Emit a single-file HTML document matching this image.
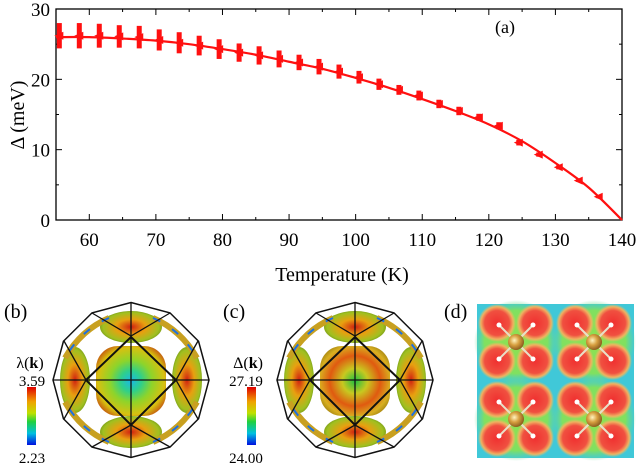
<!DOCTYPE html>
<html><head><meta charset="utf-8"><style>
body{margin:0;background:#fff;}
svg{display:block;font-family:"Liberation Serif",serif;}
</style></head><body>
<svg id="fig" width="640" height="468" viewBox="0 0 640 468">
<defs>
<radialGradient id="cen" cx="0.5" cy="0.5" r="0.6"><stop offset="0" stop-color="#19b8e8"/><stop offset="0.25" stop-color="#2fd08a"/><stop offset="0.5" stop-color="#8ed42a"/><stop offset="0.8" stop-color="#d8c010"/><stop offset="1" stop-color="#c04a10"/></radialGradient>
<radialGradient id="cen2" cx="0.5" cy="0.5" r="0.6"><stop offset="0" stop-color="#1fc040"/><stop offset="0.3" stop-color="#c8c820"/><stop offset="0.6" stop-color="#e05a10"/><stop offset="0.85" stop-color="#d8b020"/><stop offset="1" stop-color="#a08010"/></radialGradient>
<radialGradient id="lobe" cx="0.5" cy="0.5" r="0.6"><stop offset="0" stop-color="#d02010"/><stop offset="0.4" stop-color="#e8a010"/><stop offset="0.75" stop-color="#a0c020"/><stop offset="1" stop-color="#507010"/></radialGradient>
<linearGradient id="cbar" x1="0" y1="0" x2="0" y2="1"><stop offset="0" stop-color="#e00000"/><stop offset="0.25" stop-color="#f0a000"/><stop offset="0.45" stop-color="#c0e000"/><stop offset="0.6" stop-color="#20d040"/><stop offset="0.8" stop-color="#00c0e0"/><stop offset="1" stop-color="#0010e0"/></linearGradient>
<radialGradient id="red" cx="0.5" cy="0.5" r="0.5"><stop offset="0" stop-color="#f03030"/><stop offset="0.65" stop-color="#f05040"/><stop offset="0.85" stop-color="#f0b060"/><stop offset="1" stop-color="#f0c060" stop-opacity="0"/></radialGradient>
<radialGradient id="grn" cx="0.5" cy="0.5" r="0.5"><stop offset="0" stop-color="#90e050"/><stop offset="0.75" stop-color="#80e060"/><stop offset="1" stop-color="#60d8a0" stop-opacity="0"/></radialGradient>
<radialGradient id="atom" cx="0.4" cy="0.4" r="0.6"><stop offset="0" stop-color="#fff4c0"/><stop offset="0.5" stop-color="#d8a040"/><stop offset="1" stop-color="#906020"/></radialGradient>
</defs>
<g id="chartA"></g>
<text x="495" y="33" font-size="18">(a)</text>
<text x="24" y="115" font-size="20" text-anchor="middle" transform="rotate(-90 24 115)">Δ (meV)</text>
<text x="342" y="281" font-size="20" text-anchor="middle">Temperature (K)</text>

<g id="panelB"></g>
<g id="panelC"></g>
<text x="4" y="318" font-size="20">(b)</text>
<text x="223" y="318" font-size="20">(c)</text>
<text x="444" y="318" font-size="20">(d)</text>
<text x="30" y="368" font-size="16" text-anchor="middle">λ(<tspan font-weight="bold">k</tspan>)</text>
<text x="32" y="386" font-size="15" text-anchor="middle">3.59</text>
<rect x="27" y="387" width="9" height="58" fill="url(#cbar)"/>
<text x="32" y="463" font-size="15" text-anchor="middle">2.23</text>
<text x="248" y="368" font-size="16" text-anchor="middle">Δ(<tspan font-weight="bold">k</tspan>)</text>
<text x="246" y="386" font-size="15" text-anchor="middle">27.19</text>
<rect x="247" y="387" width="9" height="58" fill="url(#cbar)"/>
<text x="246" y="463" font-size="15" text-anchor="middle">24.00</text>
<g id="panelD"></g>
</svg>
<script>
const temps=[55.5,58.5,61.5,64.5,67.5,70.5,73.5,76.5,79.5,82.5,85.5,88.5,91.5,94.5,97.5,100.5,103.5,106.5,109.5,112.5,115.5,118.5,121.5,124.5,127.5,130.5,133.5,136.5];
const gaps=[26.2,26.2,26.2,26.1,26.0,25.6,25.2,24.8,24.3,23.8,23.4,22.9,22.4,21.8,21.1,20.3,19.3,18.5,17.7,16.5,15.5,14.6,13.4,11.0,9.3,7.5,5.6,3.3];
const errs=[1.8,1.8,1.7,1.6,1.6,1.5,1.5,1.4,1.4,1.3,1.3,1.2,1.1,1.1,1.0,0.9,0.8,0.7,0.7,0.6,0.6,0.5,0.5,0.4,0.3,0.3,0.2,0.2];
const fitT=[55,60,65,70,75,80,85,90,95,100,105,110,115,120,125,130,135,140];
const fitD=[26.0,26.0,25.8,25.5,25.0,24.3,23.5,22.5,21.5,20.2,18.8,17.2,15.5,13.6,11.2,8.1,4.6,0];
const xTicks=[60,70,80,90,100,110,120,130,140];
const yTicks=[0,10,20,30];
const NS='http://www.w3.org/2000/svg';
const X0=56,X1=622,Y0=220,Y1=9;
const sx=t=>X0+(t-55)/(140-55)*(X1-X0);
const sy=d=>Y0-d/30*(Y0-Y1);
function mk(tag,at,parent){const e=document.createElementNS(NS,tag);for(const k in at)e.setAttribute(k,at[k]);parent.appendChild(e);return e;}
const A=document.getElementById('chartA');
const frame=mk('rect',{x:X0,y:Y1,width:X1-X0,height:Y0-Y1,fill:'none',stroke:'#000','stroke-width':1.3},A);


for(let t=55;t<=140;t+=5){const major=t%10===0,L=major?6:3;
 const a=mk('line',{x1:sx(t),x2:sx(t),y1:Y0,y2:Y0-L,stroke:'#000'},A);
 const b=mk('line',{x1:sx(t),x2:sx(t),y1:Y1,y2:Y1+L,stroke:'#000'},A);}
xTicks.forEach(t=>{const e=mk('text',{x:sx(t),y:246,'font-size':19,'text-anchor':'middle'},A);e.textContent=t;});
for(let d=0;d<=30;d+=5){const L=d%10===0?6:3;
 const a=mk('line',{x1:X0,x2:X0+L,y1:sy(d),y2:sy(d),stroke:'#000'},A);
 const b=mk('line',{x1:X1,x2:X1-L,y1:sy(d),y2:sy(d),stroke:'#000'},A);}
yTicks.forEach(d=>{const e=mk('text',{x:50,y:sy(d)+7,'font-size':19,'text-anchor':'end'},A);e.textContent=d;});
const pts=fitT.map((t,i)=>[sx(t),sy(fitD[i])]);
let p='M'+pts[0][0]+','+pts[0][1];
for(let i=0;i<pts.length-1;i++){const p0=pts[Math.max(0,i-1)],p1=pts[i],p2=pts[i+1],p3=pts[Math.min(pts.length-1,i+2)];
 p+=' C'+(p1[0]+(p2[0]-p0[0])/6)+','+(p1[1]+(p2[1]-p0[1])/6)+' '+(p2[0]-(p3[0]-p1[0])/6)+','+(p2[1]-(p3[1]-p1[1])/6)+' '+p2[0]+','+p2[1];}
const fit=mk('path',{d:p,fill:'none',stroke:'#ff1010','stroke-width':2.2},A);


temps.forEach((t,i)=>{const x=sx(t),y=sy(gaps[i]),e=errs[i];
 const g=mk('g',{},A);
 mk('rect',{x:x-2.5,y:sy(gaps[i]+e),width:5,height:sy(gaps[i]-e)-sy(gaps[i]+e),fill:'#ff1010'},g);
 mk('polygon',{points:`${x-5},${y} ${x+4},${y-4} ${x+4},${y+4}`,fill:'#ff1010'},g);});

function fermi(id,cx,grad){const G=document.getElementById(id);
 const lobes=[[0,-53,31,16],[0,52,31,16],[-56,0,15,33],[56,0,15,33]];
 lobes.forEach(l=>{const e=mk('ellipse',{cx:cx+l[0],cy:380+l[1],rx:l[2],ry:l[3],fill:'url(#lobe)'},G);});
 [[-1,-1],[1,-1],[-1,1],[1,1]].forEach(s=>{const x=cx+s[0]*50,y=380+s[1]*50;
  const e=mk('path',{d:`M${cx+s[0]*22},${380+s[1]*62} Q${x},${y} ${cx+s[0]*66},${380+s[1]*22}`,fill:'none',stroke:'#c8a020','stroke-width':6},G);
  const f=mk('path',{d:`M${cx+s[0]*22},${380+s[1]*62} Q${x},${y} ${cx+s[0]*66},${380+s[1]*22}`,fill:'none',stroke:'#1e70e0','stroke-width':2,'stroke-dasharray':'8 14'},G);});
 const c=mk('rect',{x:cx-35,y:346,width:70,height:70,rx:22,fill:grad},G);
 let poly='';for(let k=0;k<12;k++){const a=k*Math.PI/6;poly+=(cx+78*Math.sin(a))+','+(380-77.5*Math.cos(a))+' ';}
 const bz=mk('polygon',{points:poly,fill:'none',stroke:'#111','stroke-width':1.5},G);
 const ln=mk('path',{d:`M${cx-78},380 H${cx+78} M${cx},302.5 V457.5 M${cx-39},313 L${cx},336 L${cx+39},313 M${cx-39},447 L${cx},425 L${cx+39},447 M${cx-67},341 L${cx-45},380 L${cx-67},419 M${cx+67},341 L${cx+45},380 L${cx+67},419`,fill:'none',stroke:'#111','stroke-width':1.3},G);
 const d=mk('polygon',{points:`${cx},337 ${cx+45},380 ${cx},425 ${cx-45},380`,fill:'none',stroke:'#111','stroke-width':2},G);}
fermi('panelB',131,'url(#cen)');
fermi('panelC',355,'url(#cen2)');

const D=document.getElementById('panelD');
const bg=mk('rect',{x:477,y:304,width:157,height:154,fill:'#40c8d8'},D);


[[516,342],[594,342],[516,419],[594,419]].forEach(c=>{
 const g=mk('g',{},D);
 mk('circle',{cx:c[0],cy:c[1],r:42,fill:'url(#grn)'},g);
 [[-1,-1],[1,-1],[-1,1],[1,1]].forEach(s=>mk('circle',{cx:c[0]+s[0]*19,cy:c[1]+s[1]*19,r:19,fill:'url(#red)'},g));
 [[-1,-1],[1,-1],[-1,1],[1,1]].forEach(s=>{mk('line',{x1:c[0],y1:c[1],x2:c[0]+s[0]*17,y2:c[1]+s[1]*17,stroke:'#e8e0c8','stroke-width':2},g);mk('circle',{cx:c[0]+s[0]*17,cy:c[1]+s[1]*17,r:2.5,fill:'#fff'},g);});
 mk('circle',{cx:c[0],cy:c[1],r:8,fill:'url(#atom)'},g);});
</script>
</body></html>
